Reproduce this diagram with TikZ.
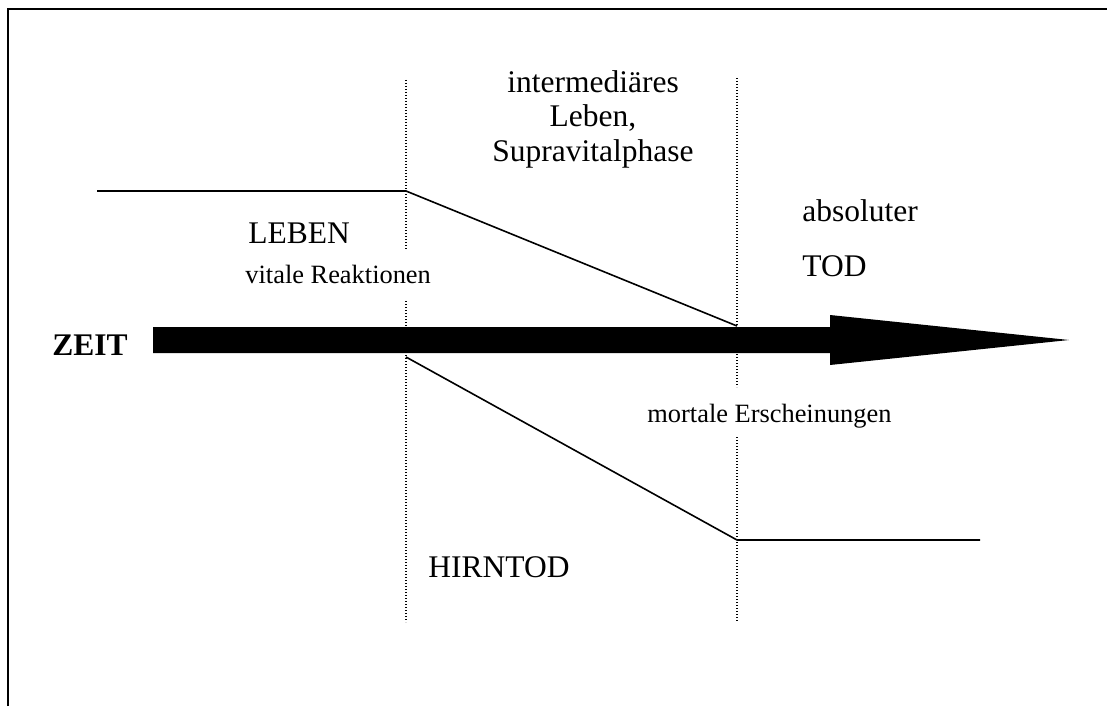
\documentclass[tikz,border=0pt]{standalone}
\usepackage{fontspec}
\setmainfont{Liberation Serif}

\begin{document}
\begin{tikzpicture}[
      x = 0.5pt, y = -0.5pt,
    txt/.style = {inner sep=0pt, anchor=base west,
                  font=\fontsize{15.75}{17.5}\selectfont},
  small/.style = {txt, font=\fontsize{13.2}{15}\selectfont},
  dotln/.style = {line width=0.7pt, dash pattern=on 0.6pt off 0.9pt},
  curve/.style = {line width=0.8pt},
         ]
\useasboundingbox (0,0) rectangle (1107,706);
\draw[line width=1pt] (8,706) -- (8,9) -- (1107,9);
%
\node (n1) [txt, anchor=base, align=center] at (593,162)
      {intermediäres\\ Leben,\\ Supravitalphase};
\node (n2) [txt]   at (248,243) {LEBEN};
\node (n3) [small] at (245,283) {vitale Reaktionen};
\node (n4) [txt, font=\fontsize{15.75}{17.5}\selectfont\bfseries] at (52,355) {ZEIT};
\node (n5) [txt]   at (802,221) {absoluter};
\node (n6) [txt]   at (802,276) {TOD};
\node (n7) [small] at (647,422) {mortale Erscheinungen};
\node (n8) [txt]   at (428,577) {HIRNTOD};
%
\coordinate (a1) at (406,80);  \coordinate (a2) at (406,249);
\coordinate (a3) at (406,301); \coordinate (a4) at (406,622);
\coordinate (b1) at (737,78);  \coordinate (b2) at (737,387);
\coordinate (b3) at (737,437); \coordinate (b4) at (737,622);
\draw[dotln] (a1) -- (a2);
\draw[dotln] (a3) -- (a4);
\draw[dotln] (b1) -- (b2);
\draw[dotln] (b3) -- (b4);
%
\coordinate (u1) at (97,191);  \coordinate (u2) at (406,191);
\coordinate (u3) at (737,326);
\coordinate (l1) at (406,357); \coordinate (l2) at (737,540);
\coordinate (l3) at (980,540);
\draw[curve] (u1) -- (u2) -- (u3);
\draw[curve] (l1) -- (l2) -- (l3);
%
\fill (153,327) -- (830,327) -- (830,315) -- (1069,340)
      -- (830,365) -- (830,353) -- (153,353) -- cycle;
\end{tikzpicture}
\end{document}
